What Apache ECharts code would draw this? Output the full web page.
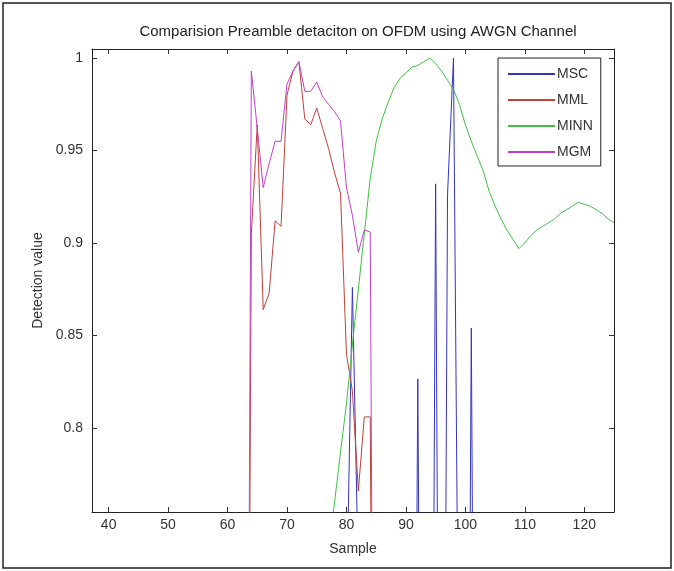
<!DOCTYPE html>
<html>
<head>
<meta charset="utf-8">
<script src="https://cdn.jsdelivr.net/npm/echarts@6/dist/echarts.min.js"></script>
<style>
html,body{margin:0;padding:0;background:#fff;}
#chart{width:674px;height:571px;}
</style>
</head>
<body>
<div id="chart"></div>
<script>
// Sample index (x)
const samples = [63,64,65,66,67,68,69,70,71,72,73,74,75,76,77,78,79,80,81,82,83,84,85,86,87,88,89,90,91,92,93,94,95,96,97,98,99,100,101,102,103,104,105,106,107,108,109,110,111,112,113,114,115,116,117,118,119,120,121,122,123,124,125];

// Series values aligned with samples (null = not drawn)
const mscValues  = [null,null,null,null,null,null,null,null,null,null,null,null,null,null,null,null,0.3,0.70,0.876,0.72,0.3,0.3,0.3,0.3,0.3,0.3,0.3,0.3,0.3,0.8265,0.3,0.3,0.932,0.3,0.926,1.0,0.6,0.3,0.854,0.3,null,null,null,null,null,null,null,null,null,null,null,null,null,null,null,null,null,null,null,null,null,null,null];
const mmlValues  = [0.3,0.905,0.964,0.864,0.873,0.912,0.909,0.98,0.993,0.998,0.967,0.964,0.973,0.962,0.951,0.938,0.927,0.84,0.82,0.766,0.806,0.806,0.3,null,null,null,null,null,null,null,null,null,null,null,null,null,null,null,null,null,null,null,null,null,null,null,null,null,null,null,null,null,null,null,null,null,null,null,null,null,null,null,null];
const minnValues = [null,null,null,null,null,null,null,null,null,null,null,null,null,0.70,0.735,0.76,0.787,0.813,0.845,0.875,0.905,0.935,0.955,0.967,0.976,0.984,0.989,0.992,0.995,0.996,0.998,1.0,0.997,0.993,0.988,0.983,0.975,0.964,0.955,0.947,0.939,0.928,0.92,0.913,0.907,0.902,0.897,0.9,0.904,0.907,0.909,0.911,0.913,0.916,0.918,0.92,0.922,0.921,0.92,0.918,0.916,0.913,0.911];
const mgmValues  = [0.3,0.993,0.962,0.930,0.943,0.955,0.955,0.986,0.993,0.998,0.982,0.982,0.987,0.979,0.975,0.971,0.966,0.93,0.915,0.895,0.907,0.906,0.3,null,null,null,null,null,null,null,null,null,null,null,null,null,null,null,null,null,null,null,null,null,null,null,null,null,null,null,null,null,null,null,null,null,null,null,null,null,null,null,null];

const seriesNames = ['MSC','MML','MINN','MGM'];
const xTicks = [40,50,60,70,80,90,100,110,120];
const yTicks = [0.8,0.85,0.9,0.95,1];

const colors = ['#3434c0','#c0403a','#40c040','#c040c8'];
const allValues = [mscValues, mmlValues, minnValues, mgmValues];

function pairs(vals){
  return samples.map((s,i)=>[s, vals[i]]);
}

const FONT = 'Liberation Sans';
const XMIN = 37.2, XMAX = 125, YMIN = 0.7546, YMAX = 1.0049;

const chart = echarts.init(document.getElementById('chart'), null, {renderer:'canvas'});
const axisLine = {show:true, lineStyle:{color:'#222', width:1}};
chart.setOption({
  animation:false,
  backgroundColor:'#fff',
  title:{
    text:'Comparision Preamble detaciton on OFDM using AWGN Channel',
    left:353, top:19, textAlign:'center',
    textStyle:{fontFamily:FONT, fontSize:15, fontWeight:'normal', color:'#222'}
  },
  legend:{
    orient:'vertical',
    left:498, top:58,
    padding:[3,8,1,10],
    itemGap:0,
    itemWidth:47, itemHeight:2,
    icon:'rect',
    borderColor:'#222', borderWidth:1,
    backgroundColor:'#fff',
    textStyle:{fontFamily:FONT, fontSize:14, color:'#333', lineHeight:26, padding:[0,0,0,-3]},
    data:seriesNames
  },
  grid:{left:92, top:49, right:60, bottom:59, containLabel:false},
  xAxis:[{
    type:'value', min:XMIN, max:XMAX, position:'bottom',
    name:'Sample', nameLocation:'middle', nameGap:30,
    nameTextStyle:{fontFamily:FONT, fontSize:14, color:'#333'},
    axisLine:axisLine,
    axisTick:{show:true, inside:true, length:5, customValues:xTicks, lineStyle:{color:'#333'}},
    axisLabel:{show:true, customValues:xTicks, margin:6, fontFamily:FONT, fontSize:14, color:'#333'},
    splitLine:{show:false}
  },{
    type:'value', min:XMIN, max:XMAX, position:'top',
    axisLine:axisLine,
    axisTick:{show:true, inside:true, length:5, customValues:xTicks, lineStyle:{color:'#333'}},
    axisLabel:{show:false},
    splitLine:{show:false}
  }],
  yAxis:[{
    type:'value', min:YMIN, max:YMAX, position:'left',
    name:'Detection value', nameLocation:'middle', nameGap:44, nameRotate:90,
    nameTextStyle:{fontFamily:FONT, fontSize:14, color:'#333'},
    axisLine:axisLine,
    axisTick:{show:true, inside:true, length:5, customValues:yTicks, lineStyle:{color:'#333'}},
    axisLabel:{show:true, customValues:yTicks, margin:9, fontFamily:FONT, fontSize:14, color:'#333'},
    splitLine:{show:false}
  },{
    type:'value', min:YMIN, max:YMAX, position:'right',
    axisLine:axisLine,
    axisTick:{show:true, inside:true, length:5, customValues:yTicks, lineStyle:{color:'#333'}},
    axisLabel:{show:false},
    splitLine:{show:false}
  }],
  graphic:[{
    type:'rect', shape:{x:3, y:3, width:668, height:565},
    style:{fill:null, stroke:'#222', lineWidth:1.5}, silent:true, z:-10
  }],
  series: seriesNames.map((n,k)=>({
    name:n, type:'line', xAxisIndex:0, yAxisIndex:0,
    data:pairs(allValues[k]),
    showSymbol:false, symbol:'none', connectNulls:false, clip:true,
    lineStyle:{color:colors[k], width:1},
    itemStyle:{color:colors[k]}
  }))
});
</script>
</body>
</html>
